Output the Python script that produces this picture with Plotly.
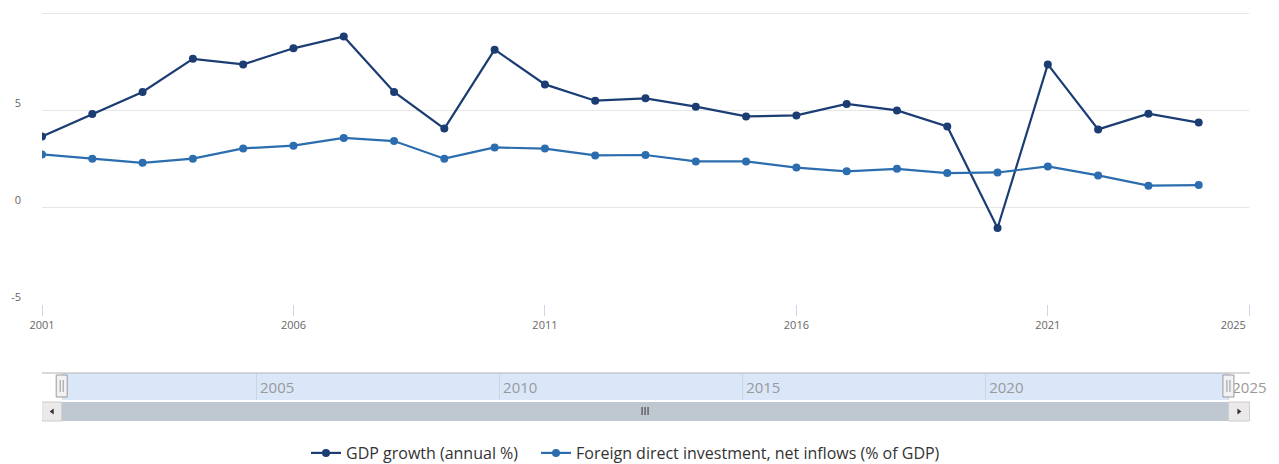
import plotly.graph_objects as go

years = list(range(2001, 2025))
gdp_growth = [3.64, 4.79, 5.93, 7.64, 7.35, 8.18, 8.79, 5.93, 4.04, 8.11, 6.32, 5.48,
              5.60, 5.17, 4.67, 4.72, 5.31, 4.98, 4.15, -1.08, 7.35, 4.00, 4.81, 4.35]
fdi_inflows = [2.71, 2.49, 2.28, 2.49, 3.02, 3.16, 3.56, 3.40, 2.49, 3.07, 3.01, 2.66,
               2.68, 2.35, 2.35, 2.03, 1.84, 1.97, 1.75, 1.78, 2.09, 1.63, 1.10, 1.13]
x_tickvals = [2001, 2006, 2011, 2016, 2021, 2025]
x_ticktext = ["2001", "2006", "2011", "2016", "2021", "2025" + "\u00a0" * 11]
y_tickvals = [-5, 0, 5, 10]
y_ticktext = ["-5", "0", "5", ""]
nav_tickvals = [2005, 2010, 2015, 2020, 2025]

GDP_COLOR = "#1b3d73"
FDI_COLOR = "#2b6dae"
FONT = "Open Sans"

# layout geometry (pixels); margins are zero so paper == full figure
W, H = 1279, 464


def px_x(px):
    return px / W


def px_y(py):
    return (H - py) / H


x_start, x_end = years[0], 2025
nav_range = [2000.595, 2026.04]

# main y axis: -5 at px 304, 10 at px 13; extend a touch so the top gridline is drawn
y_bottom_px, y_top_px = 304, 13
unit_px = (y_bottom_px - y_top_px) / 15.0
y_range = [-5, 10.12]
y_dom_top_px = y_bottom_px - (y_range[1] - y_range[0]) * unit_px

fig = go.Figure()
fig.add_trace(go.Scatter(x=years, y=gdp_growth, mode="lines+markers",
                         name="GDP growth (annual %)",
                         line=dict(color=GDP_COLOR, width=2.2),
                         marker=dict(color=GDP_COLOR, size=8), legend="legend"))
fig.add_trace(go.Scatter(x=years, y=fdi_inflows, mode="lines+markers",
                         name="Foreign direct investment, net inflows (% of GDP)",
                         line=dict(color=FDI_COLOR, width=2.2),
                         marker=dict(color=FDI_COLOR, size=8), legend="legend2"))
# empty trace to hold the navigator axes
fig.add_trace(go.Scatter(x=[], y=[], xaxis="x2", yaxis="y3", showlegend=False,
                         hoverinfo="skip"))

nav_lo, nav_hi = px_y(400), px_y(373)
sb_lo, sb_hi = px_y(421), px_y(402)
sb_mid = (sb_lo + sb_hi) / 2

shapes = [
    # navigator selected-range mask
    dict(type="rect", xref="x2", yref="paper", x0=x_start, x1=x_end, y0=nav_lo, y1=nav_hi,
         fillcolor="#d9e7f9", line=dict(width=0), layer="below"),
    # navigator top outline
    dict(type="line", xref="paper", yref="paper", x0=px_x(42), x1=px_x(1250), y0=nav_hi, y1=nav_hi,
         line=dict(color="#b3b3b3", width=1)),
    # scrollbar thumb
    dict(type="rect", xref="x2", yref="paper", x0=x_start, x1=x_end, y0=sb_lo, y1=sb_hi,
         fillcolor="#bfc7d0", line=dict(width=0)),
    # scrollbar buttons
    dict(type="rect", xref="x2", yref="paper", xsizemode="pixel", xanchor=x_start,
         x0=-20, x1=0, y0=sb_lo, y1=sb_hi, fillcolor="#ebe9ea",
         line=dict(color="#cccccc", width=1)),
    dict(type="rect", xref="x2", yref="paper", xsizemode="pixel", xanchor=x_end,
         x0=0, x1=21, y0=sb_lo, y1=sb_hi, fillcolor="#ebe9ea",
         line=dict(color="#cccccc", width=1)),
    # arrows
    dict(type="path", xref="x2", yref="paper", xsizemode="pixel", ysizemode="pixel",
         xanchor=x_start, yanchor=sb_mid, path="M -8,-3 L -8,3 L -12,0 Z",
         fillcolor="#333333", line=dict(width=0)),
    dict(type="path", xref="x2", yref="paper", xsizemode="pixel", ysizemode="pixel",
         xanchor=x_end, yanchor=sb_mid, path="M 9,-3 L 9,3 L 13,0 Z",
         fillcolor="#333333", line=dict(width=0)),
]
# grip on scrollbar
grip_x = (x_start + x_end) / 2
for dx in (-3, 0, 3):
    shapes.append(dict(type="line", xref="x2", yref="paper", xsizemode="pixel",
                       xanchor=grip_x, x0=dx, x1=dx, y0=px_y(415), y1=px_y(407),
                       line=dict(color="#333333", width=1)))
# navigator handles
for xa in (x_start, x_end):
    shapes.append(dict(type="rect", xref="x2", yref="paper", xsizemode="pixel",
                       xanchor=xa, x0=-5.5, x1=5.5, y0=px_y(397), y1=px_y(375),
                       fillcolor="#f2f2f2", line=dict(color="#999999", width=1)))
    for dx in (-1.5, 1.5):
        shapes.append(dict(type="line", xref="x2", yref="paper", xsizemode="pixel",
                           xanchor=xa, x0=dx, x1=dx, y0=px_y(392), y1=px_y(380),
                           line=dict(color="#999999", width=1)))

legend_common = dict(orientation="h", xanchor="left", yanchor="middle", y=px_y(453),
                     font=dict(size=16, color="#333333", family=FONT),
                     bgcolor="rgba(0,0,0,0)", borderwidth=0, itemwidth=30)

fig.update_layout(
    width=W, height=H,
    margin=dict(l=0, r=0, t=0, b=0, pad=0, autoexpand=False),
    paper_bgcolor="white", plot_bgcolor="white",
    font=dict(family=FONT, color="#666666", size=12),
    showlegend=True,
    hovermode=False,
    legend=dict(x=px_x(306), **legend_common),
    legend2=dict(x=px_x(536), **legend_common),
    xaxis=dict(domain=[px_x(42), px_x(1249)], range=[x_start, x_end], anchor="y",
               tickmode="array", tickvals=x_tickvals, ticktext=x_ticktext,
               ticks="outside", ticklen=11, tickcolor="#ccd6eb", tickwidth=1,
               showgrid=False, zeroline=False, showline=False,
               tickfont=dict(size=11, color="#666666")),
    yaxis=dict(domain=[px_y(y_bottom_px), px_y(y_dom_top_px)], range=y_range, anchor="x",
               tickmode="array", tickvals=y_tickvals, ticktext=y_ticktext,
               showgrid=True, gridcolor="#e6e6e6", gridwidth=1, zeroline=False,
               showline=False, ticks="", ticklabelshift=-7, ticklabelstandoff=20,
               tickfont=dict(size=11, color="#666666")),
    xaxis2=dict(domain=[px_x(42), 1], range=nav_range, anchor="y3",
                tickmode="array", tickvals=nav_tickvals, ticktext=[str(v) for v in nav_tickvals],
                ticks="", showgrid=True, gridcolor="#c9d6e6", gridwidth=1, zeroline=False,
                showline=False, ticklabelstandoff=-23, ticklabelshift=21,
                tickfont=dict(size=15, color="#999999")),
    yaxis3=dict(domain=[nav_lo, nav_hi], range=[0, 1], anchor="x2",
                showticklabels=False, showgrid=False, zeroline=False, showline=False),
    shapes=shapes,
)

fig.write_html("out.html")
